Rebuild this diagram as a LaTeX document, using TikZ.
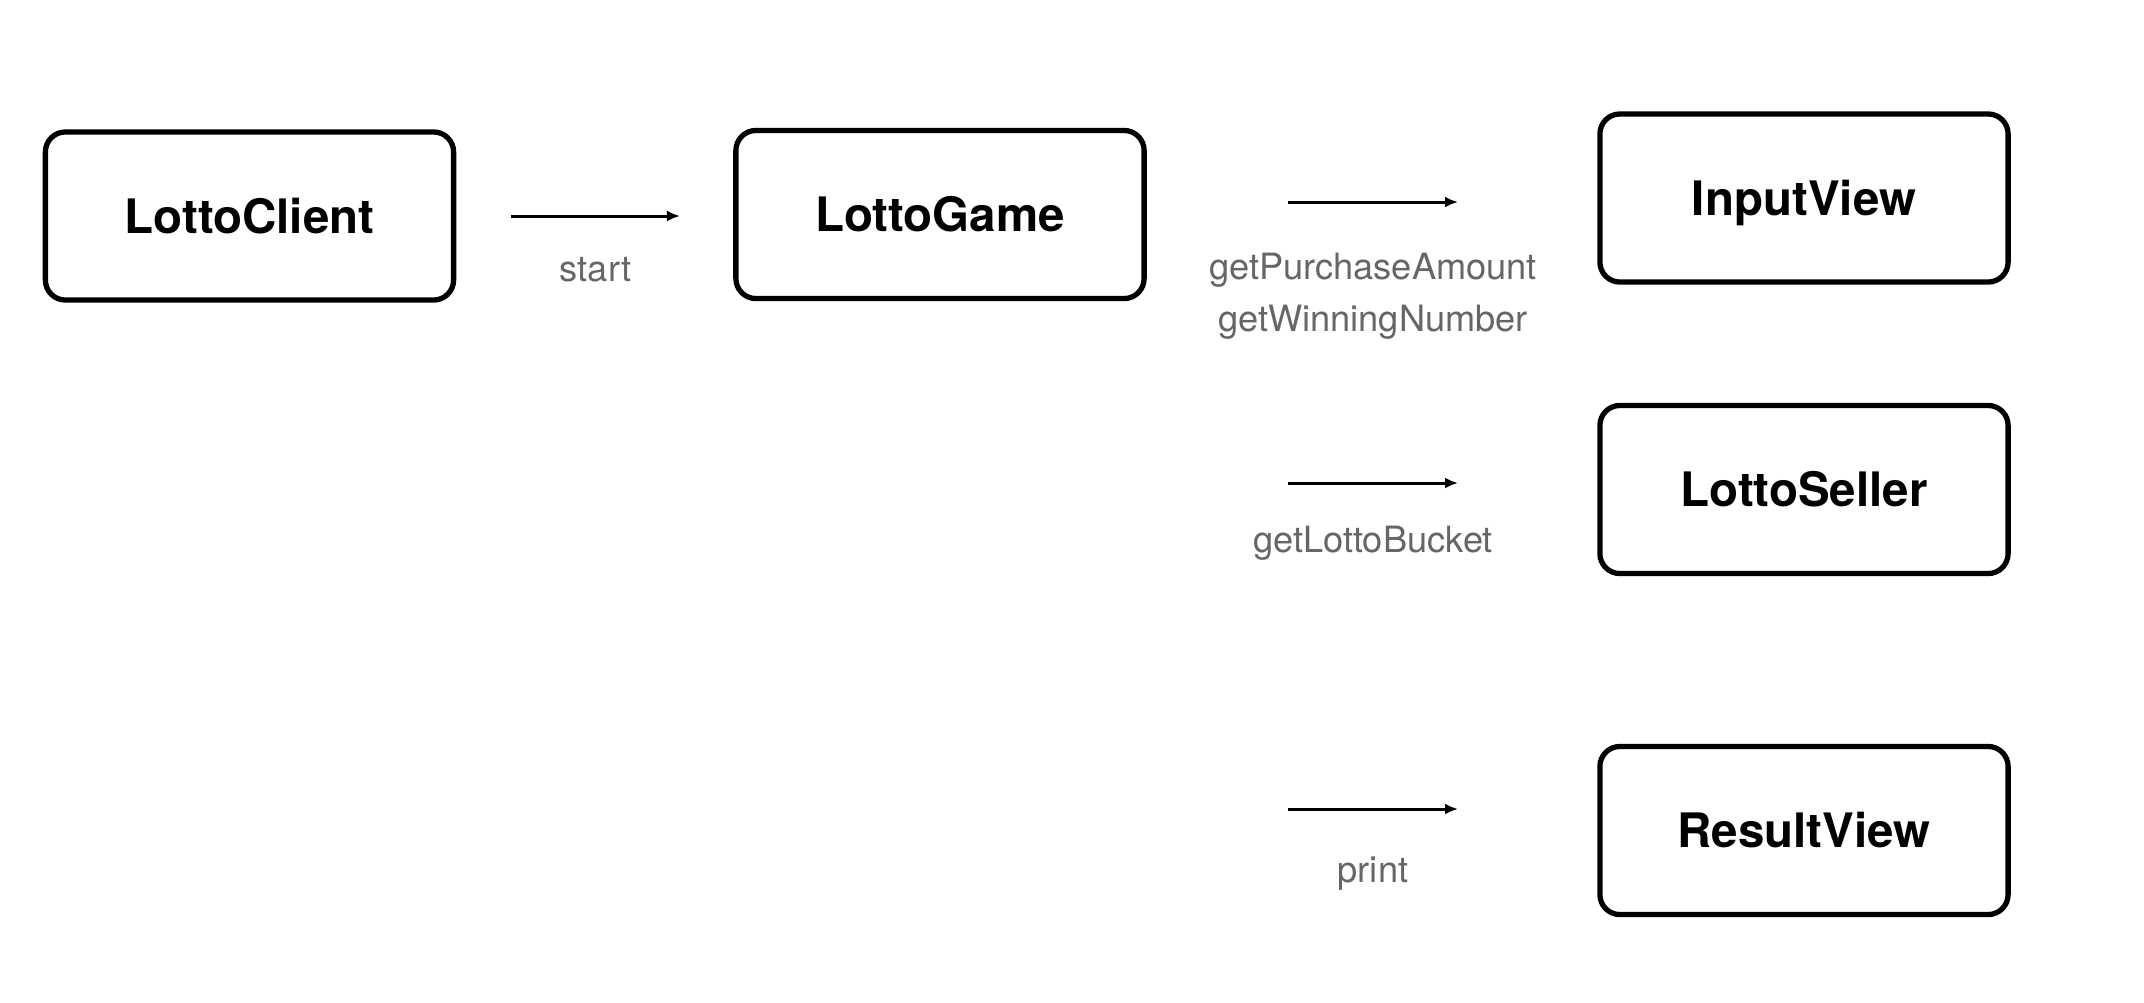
\documentclass[tikz,border=0pt]{standalone}
\usepackage{fontspec}
\setmainfont{TeX Gyre Heros}
\usetikzlibrary{positioning,calc,arrows.meta}

\tikzset{
    classbox/.style = {draw = black, line width = 1.5pt,
        minimum width = 4.08cm,
        minimum height = 1.68cm,
        rounded corners = 0.2cm,
        text = black,
        text height = 9.7pt, text depth = 0pt,
        font = \fontsize{13.5}{16}\selectfont\bfseries},
    calllabel/.style = {text = black!60, align = center,
        font = \fontsize{10.3}{14.8}\selectfont},
    callarrow/.style = {-{Latex[length = 1.3mm, width = 1.1mm]}, line width = 0.85pt},
}

\begin{document}
\begin{tikzpicture}[x = 0.01cm, y = -0.01cm]
        \useasboundingbox (0,0) rectangle (2144,1002);

        %client
        \node[classbox] (client) at (249.5,216) {LottoClient};

        %game
        \node[classbox] (game) at (940,214.5) {LottoGame};

        %views and seller
        \node[classbox] (input) at (1804,198) {InputView};
        \node[classbox] (seller) at (1804,489.5) {LottoSeller};
        \node[classbox] (result) at (1804,830.5) {ResultView};

        %arrow ends
        \coordinate (startA) at (511,216);
        \coordinate (startB) at (680,216);
        \coordinate (inputA) at (1288,202);
        \coordinate (inputB) at (1458,202);
        \coordinate (sellerA) at (1288,483);
        \coordinate (sellerB) at (1458,483);
        \coordinate (resultA) at (1288,809);
        \coordinate (resultB) at (1458,809);

        \path[callarrow]

            %client to game
            (startA) edge node [calllabel, midway, yshift = -0.54cm] {start} (startB)

            %game to views and seller
            (inputA) edge node [calllabel, midway, yshift = -0.94cm] {getPurchaseAmount\\getWinningNumber} (inputB)
            (sellerA) edge node [calllabel, midway, yshift = -0.60cm] {getLottoBucket} (sellerB)
            (resultA) edge node [calllabel, midway, yshift = -0.65cm] {print} (resultB)
            ;

\end{tikzpicture}
\end{document}
